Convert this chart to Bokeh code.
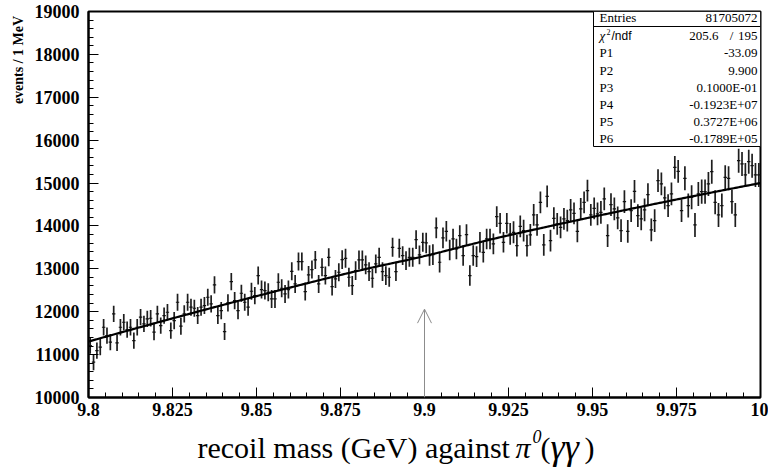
import numpy as np
from bokeh.plotting import figure
from bokeh.layouts import column, row
from bokeh.models import Range1d, FixedTicker, Label, Arrow, OpenHead, ColumnDataSource
from bokeh.core.properties import value
from bokeh.embed import file_html
from bokeh.resources import INLINE

# ---------------- data ----------------
x_lo, x_hi, bin_width = 9.8, 10.0, 0.001
counts = [
    11212, 10823, 11095, 11173, 11638, 11445, 11289, 11950, 11274, 11638,
    11755, 11584, 11638, 11328, 11638, 11872, 11716, 11833, 11848, 11522,
    11950, 11678, 11911, 11988, 11561,
    11794, 12221, 11662, 11950, 12221, 12105, 12081, 11911, 12105, 12144,
    12338, 12183, 12626, 11911, 12027, 11538, 12206, 12703, 12260, 12027,
    12431, 12221, 12105, 12477, 12377,
    12843, 12516, 12493, 12454, 12299, 12299, 12687, 12547, 12415, 12516,
    12943, 12648, 13169, 13169, 12470, 12858, 12982, 13208, 12648, 13036,
    12843, 13269, 12586, 12765, 12920,
    13215, 13246, 12804, 12610, 12959, 13208, 13208, 13092, 12936, 12780,
    13115, 13269, 12936, 12843, 12804, 13502, 12936, 13479, 13309, 13192,
    13269, 13269, 13681, 13324, 13619,
    13604, 13309, 13332, 13954, 13153, 13721, 13875, 13441, 13697, 13464,
    13775, 13309, 13798, 12843, 13309, 13285, 13619, 13386, 13697, 13697,
    13581, 14217, 14061, 13619, 14061,
    13814, 13852, 13542, 13991, 13891, 13542, 13791, 14257, 14024, 14551,
    13558, 14690, 13658, 14178, 14047, 13968, 14164, 14124, 14373, 14294,
    13875, 14397, 14551, 14823, 14257, 14411,
    14280, 14318, 14629, 13775, 14497, 14397, 14187, 13891, 14567, 13875,
    14357, 14807, 14241, 14164, 14373, 14730, 13907, 14124, 15056, 14979,
    14653, 14474, 14746, 15366, 15273, 14357,
    15110, 14474, 14668, 14024, 14746, 14800, 14800, 14979, 15266, 14551,
    14257, 14474, 15133, 15110, 14567, 14257, 15522, 15445, 15189, 15499,
    15406, 15189, 15189,
]
errors = ([190] * 25 + [200] * 25 + [210] * 25 + [220] * 25 +
          [240] * 25 + [255] * 26 + [265] * 26 + [280] * 23)

x_ticks = [9.8, 9.825, 9.85, 9.875, 9.9, 9.925, 9.95, 9.975, 10.0]
x_tick_labels = ["9.8", "9.825", "9.85", "9.875", "9.9", "9.925", "9.95", "9.975", "10"]
y_ticks = [10000, 11000, 12000, 13000, 14000, 15000, 16000, 17000, 18000, 19000]

# fit parameters (gaus + pol2), as printed in the stats box
fit_params = [-33.09, 9.900, 0.1000e-01, -0.1923e+07, 0.3727e+06, -0.1789e+05]
stats_names = ["Entries", "P1", "P2", "P3", "P4", "P5", "P6"]
stats_values = ["81705072", "-33.09", "9.900", "0.1000E-01", "-0.1923E+07", "0.3727E+06", "-0.1789E+05"]
chi2_text, ndf_text = "205.6", "195"
arrow_x, arrow_top = 9.9, 12060
y_title = "events / 1 MeV"

# ---------------- layout (absolute window pixels) ----------------
W, H = 768, 470
YW = 30            # width of the strip holding the y title
MH = 422           # height of the main figure
FL, FR, FT, FB = 88, 760, 11, 397
Y0, Y1 = 10000, 19000

def dx(px):
    return x_lo + (px - FL) / (FR - FL) * (x_hi - x_lo)

def dy(py):
    return Y0 + (FB - py) / (FB - FT) * (Y1 - Y0)

p = figure(width=W - YW, height=MH, output_backend="svg", toolbar_location=None,
           title=None,
           x_range=Range1d(x_lo, x_hi), y_range=Range1d(Y0, Y1),
           min_border_left=FL - YW, min_border_right=W - FR,
           min_border_top=FT, min_border_bottom=MH - FB)
p.background_fill_color = "white"
p.border_fill_color = "white"
p.outline_line_color = "black"
p.outline_line_width = 2
p.xgrid.visible = False
p.ygrid.visible = False

minor_x = [round(x_lo + 0.005 * i, 4) for i in range(41)]
minor_y = list(range(Y0, Y1 + 1, 200))
p.xaxis.ticker = FixedTicker(ticks=x_ticks, minor_ticks=minor_x)
p.yaxis.ticker = FixedTicker(ticks=y_ticks, minor_ticks=minor_y)
p.xaxis.major_label_overrides = {t: l for t, l in zip(x_ticks, x_tick_labels)}

for ax in (p.xaxis[0], p.yaxis[0]):
    ax.axis_line_color = "black"
    ax.axis_line_width = 2
    ax.major_tick_in = 10
    ax.major_tick_out = 0
    ax.minor_tick_in = 5
    ax.minor_tick_out = 0
    ax.major_tick_line_color = "black"
    ax.minor_tick_line_color = "black"
    ax.major_label_text_font = "Liberation Serif"
    ax.major_label_text_font_style = "bold"
    ax.major_label_text_font_size = "18px"
    ax.major_label_text_color = "black"
p.xaxis.major_label_standoff = 5
p.yaxis.major_label_standoff = 9

# ---------------- data points ----------------
centers = x_lo + bin_width * (np.arange(len(counts)) + 0.5)
c = np.array(counts, dtype=float)
e = np.array(errors, dtype=float)
src = ColumnDataSource(dict(x=centers, y=c, lo=c - e, hi=c + e,
                            xl=centers - bin_width / 2, xr=centers + bin_width / 2))
p.segment(x0="x", y0="lo", x1="x", y1="hi", source=src, line_color="#1e1e1e", line_width=1.7)
p.segment(x0="xl", y0="y", x1="xr", y1="y", source=src, line_color="#111111", line_width=1.2)

# ---------------- fit curve ----------------
P1, P2, P3, P4, P5, P6 = fit_params
xf = np.linspace(x_lo, x_hi, 401)
yf = P1 * np.exp(-0.5 * ((xf - P2) / P3) ** 2) + P4 + P5 * xf + P6 * xf ** 2
p.line(xf, yf, line_color="black", line_width=2.2)

# ---------------- arrow ----------------
p.add_layout(Arrow(end=OpenHead(size=14, line_color="#8c8c8c", line_width=1),
                   x_start=arrow_x, y_start=Y0, x_end=arrow_x, y_end=arrow_top,
                   line_color="#8c8c8c", line_width=1))

# ---------------- stats box ----------------
bx_l = dx(593)
p.quad(left=[bx_l], right=[x_hi], bottom=[dy(146)], top=[Y1],
       fill_color="white", line_color="black", line_width=1)
p.segment(x0=[bx_l], y0=[dy(26)], x1=[x_hi], y1=[dy(26)], line_color="black", line_width=1)

def lab(x, y, t, size="13px", font="Liberation Serif", style="normal", align="left",
        baseline="middle", angle=0.0):
    p.add_layout(Label(x=x, y=y, text=t, text_font=font, text_font_size=size,
                       text_font_style=style, text_align=align, text_baseline=baseline,
                       text_color="black", angle=angle))

row_y = [17, 52, 70, 87, 104, 121, 138]
for name, val, ry in zip(stats_names, stats_values, row_y):
    lab(dx(599), dy(ry), name)
    lab(dx(757), dy(ry), val, align="right")
# chi2 / ndf row
lab(dx(599), dy(35), "\u03c7", style="italic")
lab(dx(606), dy(31), "2", size="8px")
lab(dx(611), dy(35), "/ndf", font="Liberation Sans", size="12px")
lab(dx(718), dy(35), chi2_text, align="right")
lab(dx(731), dy(35), "/", align="center")
lab(dx(757), dy(35), ndf_text, align="right")

# ---------------- text strips (no axes at all) ----------------
def blank(w, h):
    f = figure(width=w, height=h, output_backend="svg", toolbar_location=None,
               title=None, x_axis_type=None, y_axis_type=None,
               x_range=Range1d(0, w), y_range=Range1d(0, h),
               min_border_left=0, min_border_right=0, min_border_top=0, min_border_bottom=0)
    f.grid.visible = False
    f.outline_line_color = None
    f.background_fill_color = "white"
    f.border_fill_color = "white"
    return f

yf_fig = blank(YW, MH)
yf_fig.text(x=[18], y=[MH - 53], text=[y_title], angle=np.pi / 2,
            text_font=value("Liberation Serif"), text_font_style="bold",
            text_font_size="14px", text_align="center", text_baseline="middle",
            text_color="black")

TH = H - MH
tf = blank(W, TH)
pieces = [
    (197, H - 447, "recoil mass (GeV) against", "30px", "normal"),
    (515, H - 447, "\u03c0", "30px", "italic"),
    (532, H - 436, "0", "18px", "italic"),
    (540, H - 447, "(", "30px", "normal"),
    (550, H - 446, "\u03b3\u03b3", "36px", "italic"),
    (584, H - 447, ")", "30px", "normal"),
]
for px_, py_, t, sz, st in pieces:
    tf.text(x=[px_], y=[py_], text=[t], text_font=value("Liberation Serif"),
            text_font_size=sz, text_font_style=st, text_align="left",
            text_baseline="middle", text_color="black")

layout = column(row(yf_fig, p, spacing=0), tf, spacing=0)
open("out.html", "w").write(file_html(layout, INLINE))
